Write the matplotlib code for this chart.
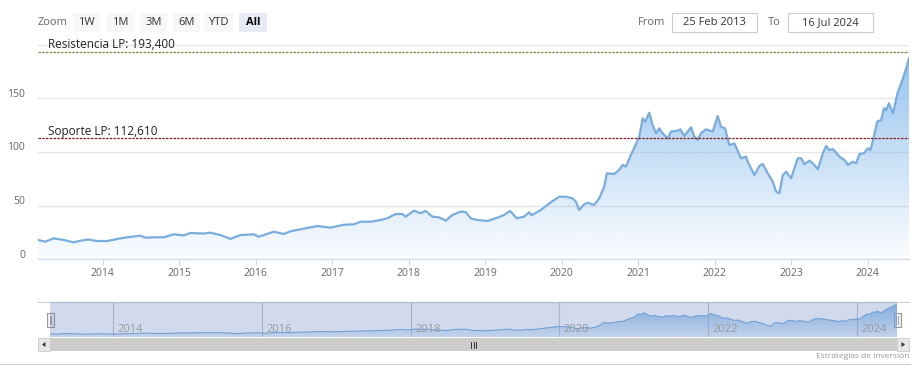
import matplotlib
matplotlib.use("Agg")
import matplotlib.pyplot as plt
import numpy as np
from matplotlib.patches import Rectangle, Polygon
from matplotlib.transforms import blended_transform_factory, ScaledTranslation

W, H = 919, 379

# decimal years
dates = [
    2013.153, 2013.247, 2013.356, 2013.487, 2013.618, 2013.706, 2013.814, 2013.924,
    2014.055, 2014.186, 2014.317, 2014.491, 2014.556, 2014.665, 2014.796, 2014.927,
    2015.058, 2015.145, 2015.319, 2015.407, 2015.538, 2015.669, 2015.800, 2015.974,
    2016.039, 2016.236, 2016.366, 2016.454, 2016.628, 2016.804, 2016.978,
    2017.152, 2017.283, 2017.370, 2017.501, 2017.632, 2017.720, 2017.829, 2017.916, 2017.959,
    2018.068, 2018.156, 2018.221, 2018.309, 2018.395, 2018.483, 2018.571, 2018.679, 2018.745,
    2018.810, 2018.898, 2019.029, 2019.160, 2019.246, 2019.325, 2019.412, 2019.508, 2019.573,
    2019.605, 2019.726, 2019.857, 2019.966, 2020.054, 2020.141, 2020.185, 2020.228, 2020.293,
    2020.338, 2020.424, 2020.490, 2020.555, 2020.590, 2020.686, 2020.751, 2020.796, 2020.839,
    2020.904, 2020.970, 2021.013, 2021.058, 2021.092, 2021.144, 2021.188, 2021.232, 2021.275,
    2021.319, 2021.385, 2021.428, 2021.516, 2021.550, 2021.602, 2021.690, 2021.733, 2021.777,
    2021.820, 2021.886, 2021.974, 2022.039, 2022.082, 2022.135, 2022.191, 2022.257, 2022.344,
    2022.410, 2022.432, 2022.518, 2022.584, 2022.628, 2022.694, 2022.759, 2022.802, 2022.846,
    2022.890, 2022.933, 2022.999, 2023.086, 2023.130, 2023.173, 2023.238, 2023.283, 2023.348,
    2023.414, 2023.457, 2023.500, 2023.544, 2023.631, 2023.696, 2023.741, 2023.806, 2023.850,
    2023.893, 2023.950, 2024.003, 2024.037, 2024.081, 2024.124, 2024.177, 2024.212, 2024.242,
    2024.278, 2024.330, 2024.395, 2024.439, 2024.482, 2024.504, 2024.540,
]
prices = [
    18.0, 16.4, 19.5, 18.0, 15.8, 17.3, 18.5, 17.0,
    17.0, 18.9, 20.5, 22.0, 20.1, 20.5, 20.5, 23.3,
    22.3, 24.5, 24.0, 24.8, 22.6, 19.0, 22.6, 23.3,
    21.0, 25.7, 23.6, 26.1, 28.5, 31.0, 29.5,
    32.2, 32.6, 35.0, 35.0, 36.6, 38.2, 42.2, 42.2, 39.7,
    45.3, 42.9, 45.0, 39.7, 39.1, 36.0, 41.3, 44.4, 44.0,
    38.2, 36.6, 35.7, 38.8, 41.3, 45.0, 38.2, 39.7, 43.8,
    41.0, 45.9, 53.1, 58.3, 58.3, 56.8, 53.7, 45.9, 51.2,
    52.7, 50.6, 56.8, 67.6, 80.1, 79.5, 83.2, 87.9, 86.3,
    97.2, 107.1, 114.2, 131.4, 128.2, 136.6, 125.1, 117.4, 122.0,
    117.4, 112.7, 118.9, 119.8, 121.1, 114.9, 123.0, 114.2, 111.2,
    117.4, 121.1, 118.9, 133.5, 123.5, 122.0, 106.5, 108.0, 94.1,
    95.6, 90.9, 78.5, 86.9, 88.8, 80.1, 72.3, 63.0, 61.5,
    78.5, 81.6, 75.5, 94.1, 94.1, 88.5, 91.9, 89.4, 83.9,
    98.8, 105.6, 101.8, 102.8, 95.6, 92.5, 87.9, 90.9, 89.4,
    98.1, 98.8, 103.4, 101.8, 114.2, 128.2, 129.8, 140.7, 139.1,
    145.3, 136.0, 156.2, 164.0, 173.3, 178.0, 187.3,
]

resistance = 193.4
support = 112.61
resistance_label = "Resistencia LP: 193,400"
support_label = "Soporte LP: 112,610"
zoom_buttons = ["1W", "1M", "3M", "6M", "YTD", "All"]
date_from = "25 Feb 2013"
date_to = "16 Jul 2024"
year_ticks = list(range(2014, 2025))
nav_years = [2014, 2016, 2018, 2020, 2022, 2024]
y_ticks = [0, 50, 100, 150, 200]
y_labels = ["0", "50", "100", "150", ""]
credit = "Estrategias de Inversión"

plt.rcParams["font.family"] = ["Open Sans", "DejaVu Sans"]

fig = plt.figure(figsize=(W / 100, H / 100), dpi=100)


def box(left, top, right, bottom):
    return [left / W, 1 - bottom / H, (right - left) / W, (bottom - top) / H]


def gradient_fill(ax, x, y, ymax, a_top, a_bot, z=1):
    grad = np.zeros((256, 1, 4))
    grad[:, 0, 0] = 124 / 255
    grad[:, 0, 1] = 181 / 255
    grad[:, 0, 2] = 236 / 255
    grad[:, 0, 3] = np.linspace(a_top, a_bot, 256)
    im = ax.imshow(grad, extent=[x[0], x[-1], 0, ymax], aspect="auto", origin="upper", zorder=z)
    verts = [(x[0], 0)] + list(zip(x, y)) + [(x[-1], 0)]
    clip = Polygon(verts, closed=True, facecolor="none", edgecolor="none", transform=ax.transData)
    ax.add_patch(clip)
    im.set_clip_path(clip)


# page-level widgets (pixel coords)
ui = fig.add_axes([0, 0, 1, 1])
ui.set_xlim(0, W)
ui.set_ylim(H, 0)
ui.axis("off")

ui.text(38, 22.5, "Zoom", fontsize=8, color="#666666", va="center")
btn_x = [73, 107, 140, 173, 204, 239]
btn_w = [27, 27, 27, 27, 29, 28]
for label, bx, bw in zip(zoom_buttons, btn_x, btn_w):
    sel = label == "All"
    ui.add_patch(Rectangle((bx, 13), bw, 19, facecolor="#e6ebf5" if sel else "#f7f7f7", edgecolor="none"))
    ui.text(bx + bw / 2, 22.5, label, fontsize=8, ha="center", va="center",
            color="#000000" if sel else "#333333", fontweight="bold" if sel else "normal")

ui.text(652, 22.5, "From", fontsize=8, color="#666666", va="center", ha="center")
ui.add_patch(Rectangle((672, 13), 85, 19, facecolor="white", edgecolor="#cccccc", lw=0.8))
ui.text(714.5, 22.5, date_from, fontsize=8, color="#333333", va="center", ha="center")
ui.text(774, 22.5, "To", fontsize=8, color="#666666", va="center", ha="center")
ui.add_patch(Rectangle((788, 13), 85, 19, facecolor="white", edgecolor="#cccccc", lw=0.8))
ui.text(830.5, 22.5, date_to, fontsize=8, color="#333333", va="center", ha="center")

# navigator outline + scrollbar
ui.plot([38, 909], [302, 302], color="#cccccc", lw=0.8)
ui.add_patch(Rectangle((38, 338), 871, 13, facecolor="#f2f2f2", edgecolor="none"))
ui.add_patch(Rectangle((50, 338), 847, 13, facecolor="#cccccc", edgecolor="none"))
ui.add_patch(Rectangle((38, 338), 12, 13, facecolor="#e6e6e6", edgecolor="#cccccc", lw=0.6))
ui.add_patch(Rectangle((897, 338), 12, 13, facecolor="#e6e6e6", edgecolor="#cccccc", lw=0.6))
ui.add_patch(Polygon([(45.5, 342), (45.5, 347), (42, 344.5)], closed=True, facecolor="#333333", edgecolor="none"))
ui.add_patch(Polygon([(901.5, 342), (901.5, 347), (905, 344.5)], closed=True, facecolor="#333333", edgecolor="none"))
for gx in (471, 473.5, 476):
    ui.plot([gx, gx], [341.5, 347.5], color="#333333", lw=0.7)

ui.text(909, 357, credit, fontsize=6, color="#999999", ha="right", va="center")
ui.plot([0, 910], [364, 364], color="#cccccc", lw=0.8)

# main chart
ax = fig.add_axes(box(38, 44.6, 909, 259.3))
ax.patch.set_alpha(0)
gradient_fill(ax, dates, prices, 200, 0.85, 0.03)
ax.plot(dates, prices, color="#7aaddc", lw=1.6, zorder=3, solid_joinstyle="round")
ax.set_xlim(2013.153, 2024.54)
ax.set_ylim(0, 200)

ax.axhline(resistance, color="#6d8f3c", lw=0.9, ls=(0, (2, 1)), zorder=4)
ax.axhline(support, color="#8b1a1a", lw=0.9, ls=(0, (2, 1)), zorder=4)
lab_tr = blended_transform_factory(ax.transAxes, ax.transData)
ax.text(10 / 871, resistance + 3.2, resistance_label, transform=lab_tr, fontsize=8.5, color="#222222", zorder=5)
ax.text(10 / 871, support + 3.2, support_label, transform=lab_tr, fontsize=8.5, color="#222222", zorder=5)

ax.set_yticks(y_ticks)
ax.set_yticklabels(y_labels)
ax.set_xticks(year_ticks)
ax.set_xticklabels([str(y) for y in year_ticks])
ax.yaxis.grid(True, color="#e6e6e6", lw=1)
ax.set_axisbelow(True)
ax.tick_params(axis="y", length=0, pad=9.4, labelsize=7.5, labelcolor="#666666")
ax.tick_params(axis="x", length=4, width=0.8, color="#ccd6eb", pad=2.5, labelsize=7.5, labelcolor="#666666")
for lbl in ax.get_yticklabels():
    lbl.set_verticalalignment("baseline")
    lbl.set_transform(lbl.get_transform() + ScaledTranslation(0, 1.5 / 100, fig.dpi_scale_trans))
for side in ("top", "left", "right"):
    ax.spines[side].set_visible(False)
ax.spines["bottom"].set_color("#ccd6eb")

# navigator
nav = fig.add_axes(box(50, 302, 897, 337))
nav.patch.set_alpha(0)
for yr in nav_years:
    nav.axvline(yr, color="#c8c8c8", lw=0.8, zorder=0.5)
gradient_fill(nav, dates, prices, 198, 0.9, 0.15)
nav.plot(dates, prices, color="#7aaddc", lw=0.8, zorder=3)
nav.set_xlim(2013.153, 2024.54)
nav.set_ylim(0, 198)
nav.add_patch(Rectangle((0, 0), 1, 1, transform=nav.transAxes, facecolor=(102 / 255, 133 / 255, 194 / 255, 0.3),
                        edgecolor="none", zorder=4))
nav_tr = blended_transform_factory(nav.transData, nav.transAxes)
for yr in nav_years:
    nav.text(yr + 0.06, 0.2, str(yr), transform=nav_tr, fontsize=8, color="#999999", va="center", zorder=5)
nav.axis("off")

# range handles
for hx in (47, 893.5):
    ui.add_patch(Rectangle((hx, 312.5), 7, 14, facecolor="#f2f2f2", edgecolor="#999999", lw=0.8, zorder=6))
    ui.plot([hx + 2.8, hx + 2.8], [315.5, 323.5], color="#999999", lw=0.6, zorder=7)
    ui.plot([hx + 4.4, hx + 4.4], [315.5, 323.5], color="#999999", lw=0.6, zorder=7)

fig.savefig("out.png", dpi=100)
